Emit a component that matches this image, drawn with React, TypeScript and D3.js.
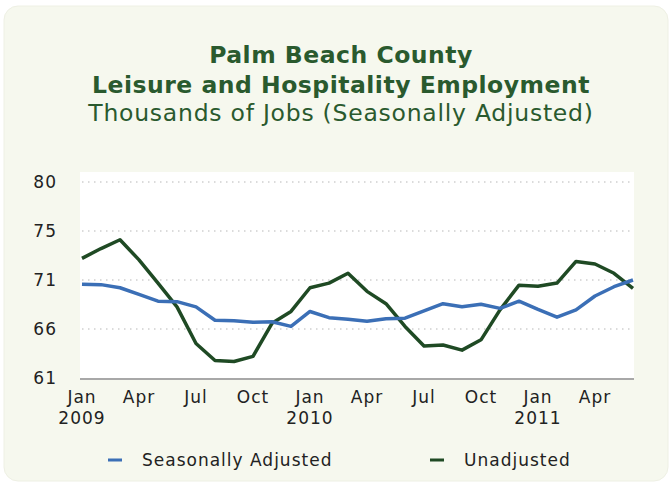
import React, { useEffect, useRef } from 'react'
import * as d3 from 'd3'

const months = [
  'Jan 2009', 'Feb 2009', 'Mar 2009', 'Apr 2009', 'May 2009', 'Jun 2009',
  'Jul 2009', 'Aug 2009', 'Sep 2009', 'Oct 2009', 'Nov 2009', 'Dec 2009',
  'Jan 2010', 'Feb 2010', 'Mar 2010', 'Apr 2010', 'May 2010', 'Jun 2010',
  'Jul 2010', 'Aug 2010', 'Sep 2010', 'Oct 2010', 'Nov 2010', 'Dec 2010',
  'Jan 2011', 'Feb 2011', 'Mar 2011', 'Apr 2011', 'May 2011', 'Jun 2011',
]

const seasonallyAdjusted = [
  70.1, 70.05, 69.75, 69.1, 68.45, 68.4, 67.9, 66.6, 66.55, 66.4, 66.45, 66.0,
  67.45, 66.85, 66.7, 66.5, 66.75, 66.8, 67.5, 68.2, 67.9, 68.15, 67.75, 68.45,
  67.65, 66.9, 67.6, 68.95, 69.85, 70.5,
]

const unadjusted = [
  72.6, 73.55, 74.4, 72.45, 70.2, 67.9, 64.35, 62.7, 62.6, 63.1, 66.3, 67.45,
  69.75, 70.2, 71.15, 69.4, 68.2, 66.0, 64.1, 64.2, 63.7, 64.7, 67.6, 70.0,
  69.9, 70.2, 72.3, 72.05, 71.15, 69.7,
]

const xTicks = [
  { i: 0, top: 'Jan', bottom: '2009' },
  { i: 3, top: 'Apr', bottom: '' },
  { i: 6, top: 'Jul', bottom: '' },
  { i: 9, top: 'Oct', bottom: '' },
  { i: 12, top: 'Jan', bottom: '2010' },
  { i: 15, top: 'Apr', bottom: '' },
  { i: 18, top: 'Jul', bottom: '' },
  { i: 21, top: 'Oct', bottom: '' },
  { i: 24, top: 'Jan', bottom: '2011' },
  { i: 27, top: 'Apr', bottom: '' },
]

const yMin = 61
const yMax = 80

const BLUE = '#3b6fb6'
const GREEN = '#1f4a24'
const TITLE = '#2a5a2e'
const FONT = '"DejaVu Sans", sans-serif'

export default function App() {
  const svgRef = useRef<SVGSVGElement>(null)

  useEffect(() => {
    document.body.style.margin = '0'
    if (!svgRef.current) return
    const width = 672
    const height = 483
    const svg = d3.select(svgRef.current)
    svg.selectAll('*').remove()

    svg.append('rect').attr('width', width).attr('height', height).attr('fill', '#ffffff')
    svg.append('rect')
      .attr('x', 4).attr('y', 6).attr('width', width - 8).attr('height', height - 8)
      .attr('rx', 14).attr('fill', '#f6f8ee').attr('stroke', '#eef0e4')

    const titles = [
      { t: 'Palm Beach County', y: 63, w: 700, s: 23.5, ls: 0.5 },
      { t: 'Leisure and Hospitality Employment', y: 93, w: 700, s: 23.5, ls: 0.5 },
      { t: 'Thousands of Jobs (Seasonally Adjusted)', y: 121, w: 400, s: 23.5, ls: 0.75 },
    ]
    svg.selectAll('text.title').data(titles).enter().append('text')
      .attr('class', 'title')
      .attr('x', 341).attr('y', (d) => d.y)
      .attr('text-anchor', 'middle')
      .attr('font-family', FONT)
      .attr('font-weight', (d) => d.w)
      .attr('font-size', (d) => d.s)
      .attr('letter-spacing', (d) => d.ls)
      .attr('fill', TITLE)
      .text((d) => d.t)

    const x0 = 82
    const x = d3.scaleLinear().domain([0, 29]).range([x0, 633])
    const y = d3.scaleLinear().domain([yMin, yMax]).range([378, 182])

    svg.append('rect').attr('x', 80).attr('y', 172).attr('width', 554).attr('height', 206).attr('fill', '#ffffff')

    const yTicks = d3.range(5).map((k) => yMin + (k * (yMax - yMin)) / 4)
    const grid = svg.append('g')
    grid.selectAll('line').data(yTicks.slice(1)).enter().append('line')
      .attr('x1', x0).attr('x2', 630)
      .attr('y1', (d) => y(d)).attr('y2', (d) => y(d))
      .attr('stroke', '#b8b8b8').attr('stroke-width', 1.2)
      .attr('stroke-dasharray', '1.5 4.5')

    svg.append('line')
      .attr('x1', 80).attr('x2', 634).attr('y1', y(yMin) + 1).attr('y2', y(yMin) + 1)
      .attr('stroke', '#a8a8a8').attr('stroke-width', 2)

    svg.append('g').selectAll('text').data(yTicks).enter().append('text')
      .attr('x', 57).attr('y', (d) => y(d) + 6)
      .attr('text-anchor', 'end')
      .attr('font-family', FONT).attr('font-size', 17).attr('letter-spacing', 1)
      .attr('fill', '#222')
      .text((d) => String(Math.round(d)))

    const xg = svg.append('g').selectAll('g').data(xTicks).enter().append('g')
    xg.append('text')
      .attr('x', (d) => x(d.i)).attr('y', 403)
      .attr('text-anchor', 'middle')
      .attr('font-family', FONT).attr('font-size', 17).attr('letter-spacing', 1)
      .attr('fill', '#222')
      .text((d) => d.top)
    xg.append('text')
      .attr('x', (d) => x(d.i)).attr('y', 424)
      .attr('text-anchor', 'middle')
      .attr('font-family', FONT).attr('font-size', 17).attr('letter-spacing', 1)
      .attr('fill', '#222')
      .text((d) => d.bottom)

    const line = d3.line<number>().x((_, i) => x(i)).y((d) => y(d))
    svg.append('path').datum(unadjusted).attr('d', line)
      .attr('fill', 'none').attr('stroke', GREEN).attr('stroke-width', 3.5)
      .attr('stroke-linejoin', 'round')
    svg.append('path').datum(seasonallyAdjusted).attr('d', line)
      .attr('fill', 'none').attr('stroke', BLUE).attr('stroke-width', 3.5)
      .attr('stroke-linejoin', 'round')

    const legend = [
      { label: 'Seasonally Adjusted', color: BLUE, x: 108 },
      { label: 'Unadjusted', color: GREEN, x: 430 },
    ]
    const lg = svg.append('g').selectAll('g').data(legend).enter().append('g')
    lg.append('line')
      .attr('x1', (d) => d.x).attr('x2', (d) => d.x + 14)
      .attr('y1', 460).attr('y2', 460)
      .attr('stroke', (d) => d.color).attr('stroke-width', 3)
    lg.append('text')
      .attr('x', (d) => d.x + 34).attr('y', 466)
      .attr('font-family', FONT).attr('font-size', 17).attr('letter-spacing', 1)
      .attr('fill', '#222')
      .text((d) => d.label)
  }, [])

  return <svg ref={svgRef} width={672} height={483} style={{ display: 'block' }} />
}
